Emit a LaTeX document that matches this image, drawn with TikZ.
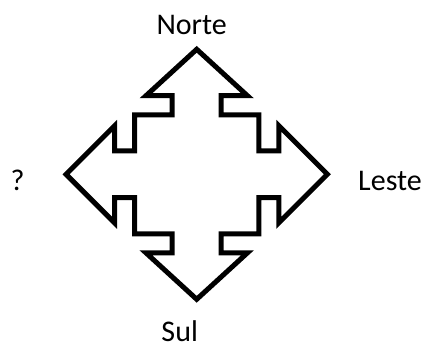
\documentclass[tikz,border=0pt]{standalone}
\usepackage{fontspec}
\setmainfont{Carlito}
\usetikzlibrary{positioning}

\begin{document}
\begin{tikzpicture}[
    x=1pt, y=1pt,
    lbl/.style={font=\fontsize{30}{36}\selectfont, anchor=base, inner sep=0pt},
    outline/.style={draw=black, line width=5pt, line join=miter},
]
\useasboundingbox (0,0) rectangle (428,347);

% Four-way arrow (one quadrant after the other, clockwise from the top tip).
\begin{scope}[x=1.045pt, y=1pt, shift={(196.7pt,172.7pt)}]
\draw[outline] (0,125) -- (48.5,78.6) -- (23.4,78.6) -- (23.4,59.5) -- (59.5,59.5) -- (59.5,23.4) -- (78.6,23.4) -- (78.6,48.5)
  -- (125,0) -- (78.6,-48.5) -- (78.6,-23.4) -- (59.5,-23.4) -- (59.5,-59.5) -- (23.4,-59.5) -- (23.4,-78.6) -- (48.5,-78.6)
  -- (0,-125) -- (-48.5,-78.6) -- (-23.4,-78.6) -- (-23.4,-59.5) -- (-59.5,-59.5) -- (-59.5,-23.4) -- (-78.6,-23.4) -- (-78.6,-48.5)
  -- (-125,0) -- (-78.6,48.5) -- (-78.6,23.4) -- (-59.5,23.4) -- (-59.5,59.5) -- (-23.4,59.5) -- (-23.4,78.6) -- (-48.5,78.6)
  -- cycle;
\end{scope}

% Direction labels.
\node[lbl] (norte) at (191.7,312)   {Norte};
\node[lbl] (oeste) at (17.5,156.5)  {?};
\node[lbl] (leste) at (390,156.3)   {Leste};
\node[lbl] (sul)   at (179.7,5)     {Sul};
\end{tikzpicture}
\end{document}
